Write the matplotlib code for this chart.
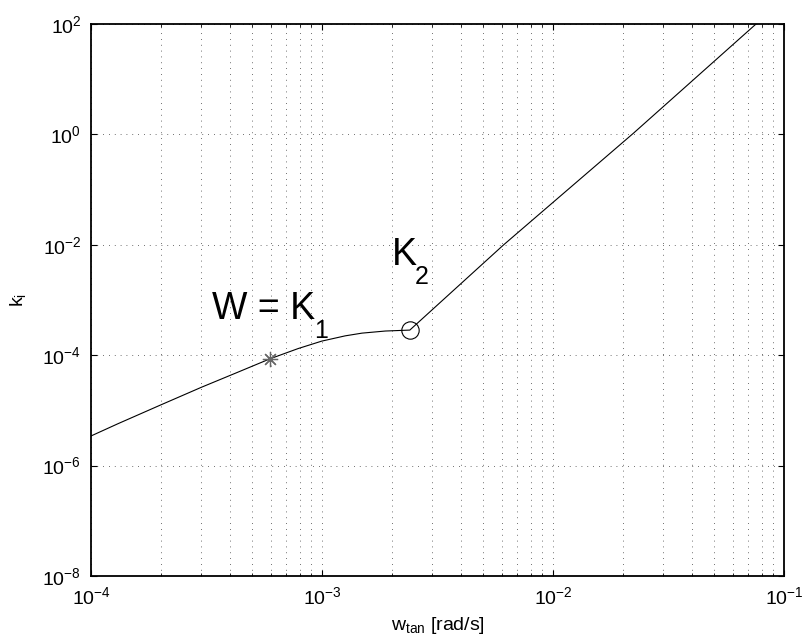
import matplotlib
matplotlib.use("Agg")
import matplotlib.pyplot as plt
from matplotlib.ticker import FixedLocator, LogLocator, NullLocator, NullFormatter

plt.rcParams['font.family'] = ['Liberation Sans', 'DejaVu Sans']
plt.rcParams['mathtext.fontset'] = 'custom'
plt.rcParams['mathtext.rm'] = 'Liberation Sans'
plt.rcParams['mathtext.it'] = 'Liberation Sans'
plt.rcParams['mathtext.default'] = 'regular'

# curve (w_tan in rad/s, k_i)
w_tan = [1.00e-4, 1.31e-4, 1.99e-4, 3.01e-4, 4.20e-4, 5.96e-4, 7.89e-4,
         9.98e-4, 1.26e-3, 1.49e-3, 1.88e-3, 2.40e-3, 6.10e-3, 2.23e-2, 7.57e-2]
k_i = [3.44e-6, 5.75e-6, 1.24e-5, 2.63e-5, 4.68e-5, 8.61e-5, 1.32e-4,
       1.80e-4, 2.24e-4, 2.51e-4, 2.74e-4, 2.85e-4, 9.9e-3, 1.05, 100.0]

# marked points
k1_point = (5.96e-4, 8.7e-5)
k2_point = (2.40e-3, 2.85e-4)

yticks = [1e-8, 1e-6, 1e-4, 1e-2, 1e0, 1e2]

fig = plt.figure(figsize=(8.06, 6.41), dpi=100)
ax = fig.add_axes([0.1129, 0.1014, 0.8598, 0.8612])

ax.plot(w_tan, k_i, color='black', linewidth=0.8)
ax.plot(*k1_point, marker=(8, 2, 0), markersize=11, color='0.4',
        markeredgewidth=0.9, linestyle='none')
ax.plot(*k2_point, marker='o', markersize=12.5, markerfacecolor='none',
        markeredgecolor='black', markeredgewidth=0.8, linestyle='none')

ax.set_xscale('log')
ax.set_yscale('log')
ax.set_xlim(1e-4, 1e-1)
ax.set_ylim(1e-8, 1e2)

ax.yaxis.set_major_locator(FixedLocator(yticks))
ax.yaxis.set_minor_locator(NullLocator())
ax.xaxis.set_major_locator(LogLocator(base=10))
ax.xaxis.set_minor_locator(LogLocator(base=10, subs=range(2, 10)))
ax.xaxis.set_minor_formatter(NullFormatter())

# dotted grid like the original
grid_style = dict(color='0.25', linestyle=(0, (1, 6)), linewidth=0.6)
ax.grid(True, which='major', axis='both', **grid_style)
ax.grid(True, which='minor', axis='x', **grid_style)

ax.tick_params(which='both', direction='in', top=True, right=True,
               labelsize=14)
ax.tick_params(which='major', length=4.5, width=0.8)
ax.tick_params(which='minor', length=2.5, width=0.6)
ax.tick_params(axis='y', pad=7)
ax.tick_params(axis='x', pad=7)
for s in ax.spines.values():
    s.set_linewidth(1.3)

ax.set_xlabel(r'w$_{\mathrm{tan}}$ [rad/s]', fontsize=14, labelpad=5)
ax.set_ylabel(r'k$_{\mathrm{i}}$', fontsize=14, labelpad=10)

# annotations, subscripts placed by hand (MATLAB style, dropped low)
ax.annotate('W = K', xy=(3.33e-4, 4.53e-4), fontsize=27)
ax.annotate('1', xy=(3.33e-4, 4.53e-4), xytext=(74, -13.5),
            textcoords='offset points', fontsize=18)
ax.annotate('K', xy=(2.0e-3, 4.3e-3), fontsize=27)
ax.annotate('2', xy=(2.0e-3, 4.3e-3), xytext=(17, -13.5),
            textcoords='offset points', fontsize=18)

fig.savefig('out.png', dpi=100)
